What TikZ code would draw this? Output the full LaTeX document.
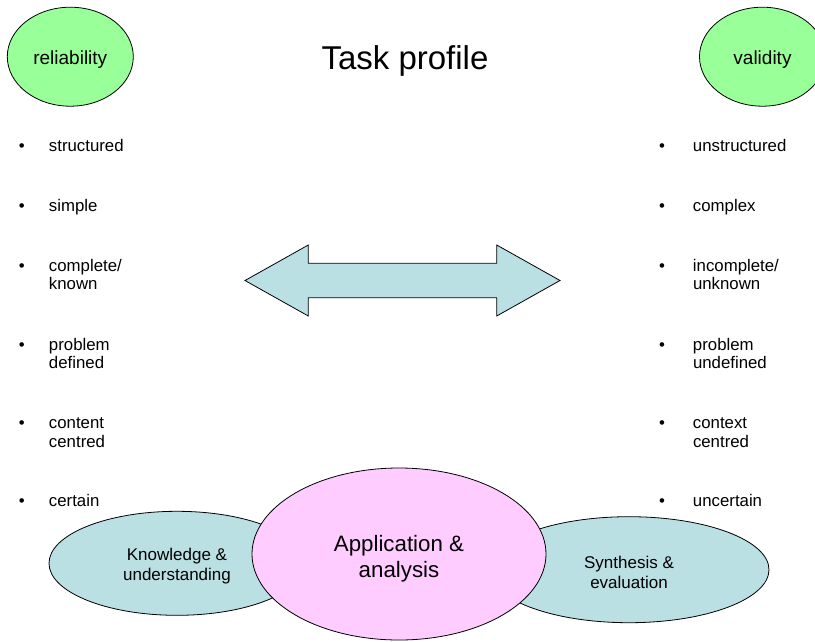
\documentclass[tikz,border=0pt]{standalone}
\usepackage{fontspec}
\setmainfont{Liberation Sans}
\usepackage{tikz}
\usetikzlibrary{shapes,positioning}
\definecolor{aimgreen}{RGB}{153,255,153}
\definecolor{levelblue}{RGB}{187,224,227}
\definecolor{levelpink}{RGB}{255,204,255}
\newcommand{\bul}[2]{\makebox[#1][l]{\textbullet}\begin{tabular}[t]{@{}l@{}}#2\end{tabular}}
\newcommand{\pad}[1]{\rule{0pt}{#1}}

\begin{document}
\begin{tikzpicture}[x=1pt,y=-1pt]
    \tikzstyle{every node}=[inner sep=0pt]
    \tikzstyle{aim}=[ellipse, draw, line width=0.8pt, fill=aimgreen, minimum width=126pt, minimum height=99pt, font=\fontsize{19}{22}\selectfont]
    \tikzstyle{level}=[ellipse, draw, line width=0.8pt, fill=levelblue, align=center, font=\fontsize{17}{20}\selectfont]
    \tikzstyle{entry}=[anchor=base west, font=\fontsize{16.8}{18.5}\selectfont]

    \path[use as bounding box, clip] (0,0) rectangle (815,641);

    \node[aim] (rel) at (70.3,56.7) {\pad{20pt}reliability};
    \node[aim] (val) at (762.5,56.7) {\pad{20pt}validity};
    \node[anchor=base, font=\fontsize{33}{38}\selectfont] (title) at (405,69.8) {Task profile};

    \node[entry] (l1) at (18.8,151.5) {\bul{30pt}{structured}};
    \node[entry] (l2) at (18.8,211.5) {\bul{30pt}{simple}};
    \node[entry] (l3) at (18.8,271) {\bul{30pt}{complete/\\known}};
    \node[entry] (l4) at (18.8,350) {\bul{30pt}{problem\\defined}};
    \node[entry] (l5) at (18.8,428.5) {\bul{30pt}{content\\centred}};
    \node[entry] (l6) at (18.8,506.5) {\bul{30pt}{certain}};

    \node[entry] (r1) at (658.8,151.5) {\bul{34pt}{unstructured}};
    \node[entry] (r2) at (658.8,211.5) {\bul{34pt}{complex}};
    \node[entry] (r3) at (658.8,271) {\bul{34pt}{incomplete/\\unknown}};
    \node[entry] (r4) at (658.8,350) {\bul{34pt}{problem\\undefined}};
    \node[entry] (r5) at (658.8,428.5) {\bul{34pt}{context\\centred}};
    \node[entry] (r6) at (658.8,506.5) {\bul{34pt}{uncertain}};

    \filldraw[fill=levelblue, line width=0.8pt] (245,280.5) -- (308.3,245) -- (308.3,263.3) -- (496.7,263.3) -- (496.7,245) -- (560,280.5) -- (496.7,316) -- (496.7,297.7) -- (308.3,297.7) -- (308.3,316) -- cycle;

    \node[level, minimum width=256pt, minimum height=104pt] (ku) at (177,563.3) {\pad{18.5pt}Knowledge \&\\understanding};
    \node[level, minimum width=280pt, minimum height=106pt] (se) at (629,569.7) {\pad{18.5pt}Synthesis \&\\evaluation};
    \node[level, fill=levelpink, minimum width=294pt, minimum height=172pt, font=\fontsize{22.3}{26}\selectfont] (aa) at (399,554) {\pad{25pt}Application \&\\analysis};
\end{tikzpicture}
\end{document}
